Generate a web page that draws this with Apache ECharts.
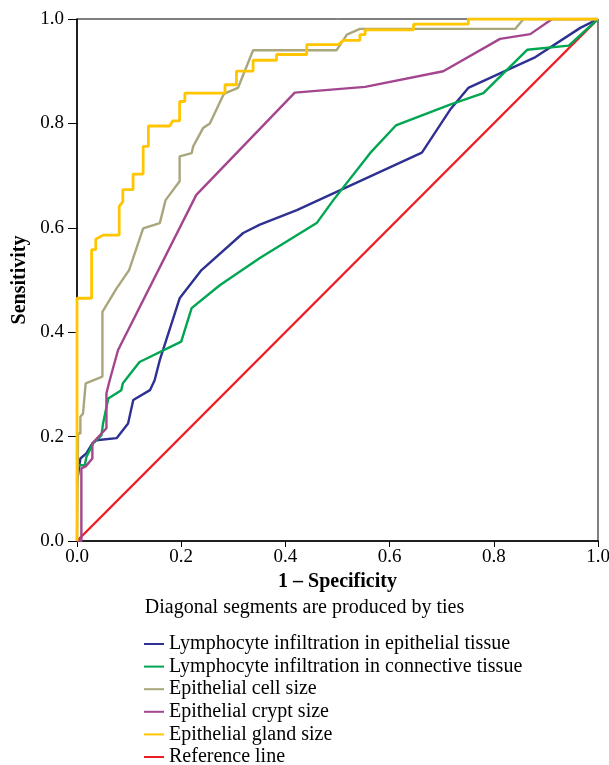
<!DOCTYPE html>
<html>
<head>
<meta charset="utf-8">
<script src="https://cdn.jsdelivr.net/npm/echarts@6/dist/echarts.min.js"></script>
<style>
  html, body { margin: 0; padding: 0; background: #fff; }
  #chart { width: 609px; height: 765px; }
</style>
</head>
<body>
<div id="chart"></div>
<script>
const seriesNames = [
  "Lymphocyte infiltration in epithelial tissue",
  "Lymphocyte infiltration in connective tissue",
  "Epithelial cell size",
  "Epithelial crypt size",
  "Epithelial gland size",
  "Reference line",
];

const seriesColors = ["#2E3192", "#00A651", "#A9A67C", "#A3468E", "#FFC600", "#EE1C25"];

const tickLabels = ["0.0", "0.2", "0.4", "0.6", "0.8", "1.0"];

// [1 - specificity, sensitivity]
const lymphEpithelial = [
  [0, 0.113], [0.002, 0.113], [0.0065, 0.158], [0.018, 0.168], [0.0295, 0.187],
  [0.037, 0.193], [0.076, 0.197], [0.098, 0.225], [0.108, 0.27], [0.14, 0.289],
  [0.149, 0.308], [0.159, 0.347], [0.197, 0.465], [0.239, 0.519], [0.319, 0.59],
  [0.351, 0.606], [0.422, 0.634], [0.662, 0.744], [0.716, 0.826], [0.751, 0.868],
  [0.88, 0.927], [0.966, 0.983], [1, 1],
];

const lymphConnective = [
  [0, 0.145], [0.015, 0.145], [0.018, 0.161], [0.031, 0.187], [0.047, 0.203],
  [0.05, 0.225], [0.06, 0.273], [0.085, 0.289], [0.088, 0.302], [0.12, 0.343],
  [0.2, 0.382], [0.22, 0.446], [0.274, 0.49], [0.351, 0.542], [0.46, 0.609],
  [0.492, 0.653], [0.5625, 0.743], [0.612, 0.796], [0.716, 0.836], [0.78, 0.858],
  [0.864, 0.941], [0.944, 0.949], [1, 1],
];

const cellSize = [
  [0, 0], [0.002, 0.206], [0.0065, 0.206], [0.0065, 0.238], [0.0115, 0.244],
  [0.0167, 0.302], [0.0488, 0.315], [0.0488, 0.439], [0.076, 0.484], [0.1, 0.519],
  [0.127, 0.599], [0.159, 0.609], [0.17, 0.653], [0.197, 0.689], [0.197, 0.737],
  [0.22, 0.743], [0.223, 0.756], [0.242, 0.791], [0.255, 0.8], [0.281, 0.855],
  [0.287, 0.859], [0.309, 0.868], [0.338, 0.94], [0.498, 0.94], [0.518, 0.97],
  [0.543, 0.981], [0.841, 0.981], [0.857, 1], [1, 1],
];

const cryptSize = [
  [0, 0], [0.0084, 0], [0.0084, 0.139], [0.0167, 0.143], [0.0295, 0.158],
  [0.0295, 0.187], [0.0565, 0.216], [0.0565, 0.283], [0.0628, 0.308], [0.0788, 0.366],
  [0.082, 0.372], [0.229, 0.663], [0.418, 0.859], [0.553, 0.87], [0.703, 0.9],
  [0.812, 0.962], [0.87, 0.971], [0.912, 1], [1, 1],
];

const glandSize = [
  [0, 0], [0, 0.465], [0.028, 0.465], [0.028, 0.558], [0.036, 0.558],
  [0.036, 0.578], [0.05, 0.586], [0.081, 0.586], [0.081, 0.641], [0.088, 0.65],
  [0.088, 0.673], [0.1076, 0.673], [0.1076, 0.703], [0.127, 0.703], [0.127, 0.756],
  [0.137, 0.756], [0.137, 0.795], [0.178, 0.795], [0.184, 0.805], [0.197, 0.805],
  [0.197, 0.842], [0.207, 0.842], [0.207, 0.858], [0.284, 0.858], [0.284, 0.874],
  [0.306, 0.874], [0.306, 0.9], [0.338, 0.9], [0.338, 0.921], [0.383, 0.921],
  [0.383, 0.932], [0.441, 0.932], [0.441, 0.951], [0.502, 0.951], [0.511, 0.959],
  [0.543, 0.959], [0.543, 0.97], [0.553, 0.97], [0.553, 0.979], [0.646, 0.979],
  [0.646, 0.99], [0.751, 0.99], [0.751, 1], [1, 1],
];

const referenceLine = [[0, 0], [1, 1]];

const allData = [lymphEpithelial, lymphConnective, cellSize, cryptSize, glandSize, referenceLine];

const serif = "'Liberation Serif', 'DejaVu Serif', serif";

const chart = echarts.init(document.getElementById("chart"));

chart.setOption({
  backgroundColor: "#ffffff",
  animation: false,
  grid: {
    left: 77,
    right: 11,
    top: 19,
    bottom: 224,
    outerBoundsMode: "none",
    containLabel: false,
    show: true,
    borderColor: "#000",
    borderWidth: 1,
  },
  xAxis: {
    type: "value",
    min: 0,
    max: 1,
    interval: 0.2,
    name: "1 – Specificity",
    nameLocation: "middle",
    nameGap: 29,
    nameTextStyle: { fontFamily: serif, fontSize: 20, fontWeight: "bold", color: "#000" },
    axisLine: { show: true, lineStyle: { color: "#000", width: 1.5 } },
    axisTick: { show: true, length: 6, lineStyle: { color: "#000" } },
    axisLabel: {
      fontFamily: serif,
      fontSize: 19,
      color: "#000",
      margin: 7,
      formatter: (v) => tickLabels[Math.round(v / 0.2)],
    },
    splitLine: { show: false },
  },
  yAxis: {
    type: "value",
    min: 0,
    max: 1,
    interval: 0.2,
    name: "Sensitivity",
    nameLocation: "middle",
    nameGap: 47,
    nameRotate: 90,
    nameTextStyle: { fontFamily: serif, fontSize: 20, fontWeight: "bold", color: "#000" },
    axisLine: { show: true, lineStyle: { color: "#000", width: 1.5 } },
    axisTick: { show: true, length: 9, lineStyle: { color: "#000" } },
    axisLabel: {
      fontFamily: serif,
      fontSize: 19,
      color: "#000",
      margin: 13,
      formatter: (v) => tickLabels[Math.round(v / 0.2)],
    },
    splitLine: { show: false },
  },
  legend: {
    orient: "vertical",
    left: 144,
    top: 634,
    height: 160,
    padding: 0,
    icon: "rect",
    itemWidth: 20,
    itemHeight: 2,
    itemGap: 2.6,
    data: seriesNames,
    textStyle: { fontFamily: serif, fontSize: 20, color: "#000", lineHeight: 20 },
  },
  graphic: [
    {
      type: "text",
      left: "center",
      top: 598,
      style: {
        text: "Diagonal segments are produced by ties",
        font: "20px " + serif,
        fill: "#000",
      },
    },
  ],
  series: allData.map((d, i) => ({
    name: seriesNames[i],
    type: "line",
    data: d,
    showSymbol: false,
    symbol: "none",
    z: i === 5 ? 1 : 2 + i,
    lineStyle: { color: seriesColors[i], width: i === 4 ? 2.8 : 2.4 },
    itemStyle: { color: seriesColors[i] },
  })),
});
</script>
</body>
</html>
